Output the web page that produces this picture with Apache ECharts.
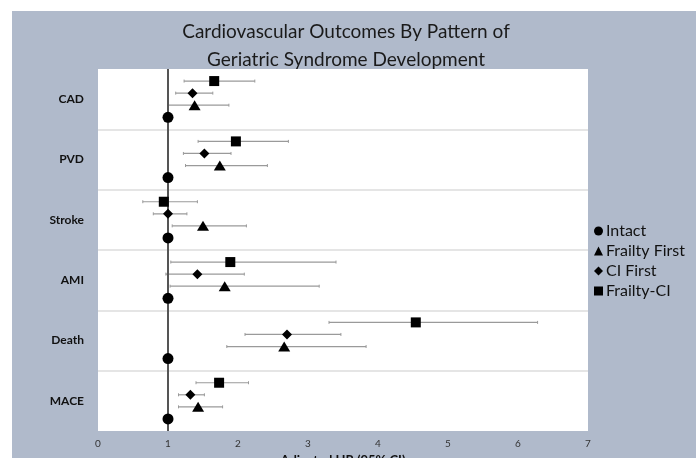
<!DOCTYPE html>
<html>
<head>
<meta charset="utf-8">
<script src="https://cdn.jsdelivr.net/npm/echarts@6/dist/echarts.min.js"></script>
<style>
  html, body { margin: 0; padding: 0; background: #ffffff; width: 696px; height: 458px; overflow: hidden; }
  #chart { position: absolute; left: 12px; top: 11px; width: 684px; height: 447px; }
</style>
</head>
<body>
<div id="chart"></div>
<script>
// ---- Data ----
const categories = ['CAD', 'PVD', 'Stroke', 'AMI', 'Death', 'MACE'];
const seriesNames = ['Intact', 'Frailty First', 'CI First', 'Frailty-CI'];

const intactHR = [1, 1, 1, 1, 1, 1];

const frailtyFirstHR = [1.38, 1.74, 1.50, 1.81, 2.66, 1.43];
const frailtyFirstLo = [1.00, 1.25, 1.06, 1.03, 1.84, 1.15];
const frailtyFirstHi = [1.87, 2.42, 2.12, 3.16, 3.83, 1.78];

const ciFirstHR = [1.35, 1.52, 1.00, 1.42, 2.70, 1.32];
const ciFirstLo = [1.11, 1.22, 0.79, 0.97, 2.10, 1.15];
const ciFirstHi = [1.64, 1.90, 1.27, 2.09, 3.47, 1.52];

const frailtyCIHR = [1.66, 1.97, 0.94, 1.89, 4.54, 1.73];
const frailtyCILo = [1.23, 1.43, 0.64, 1.04, 3.30, 1.40];
const frailtyCIHi = [2.24, 2.72, 1.42, 3.40, 6.28, 2.15];

const xTicks = [0, 1, 2, 3, 4, 5, 6, 7];

// ---- Layout of rows: each category occupies 5 row slots ----
const ROWS_PER_GROUP = 5;
const rowOffset = { 'Frailty-CI': 1, 'CI First': 2, 'Frailty First': 3, 'Intact': 4 };
function rowY(gi, name) { return gi * ROWS_PER_GROUP + rowOffset[name]; }

function points(hr, name) { return hr.map((v, i) => [v, rowY(i, name)]); }
function bars(lo, hi, name) { return lo.map((v, i) => [v, hi[i], rowY(i, name)]); }

const errData = []
  .concat(bars(frailtyFirstLo, frailtyFirstHi, 'Frailty First'))
  .concat(bars(ciFirstLo, ciFirstHi, 'CI First'))
  .concat(bars(frailtyCILo, frailtyCIHi, 'Frailty-CI'));

const separators = [];
for (let g = 1; g < categories.length; g++) separators.push({ yAxis: g * ROWS_PER_GROUP });

const FONT = 'Lato, "Open Sans", sans-serif';

const chart = echarts.init(document.getElementById('chart'), null, { renderer: 'canvas' });
chart.setOption({
  backgroundColor: '#b0bacb',
  animation: false,
  textStyle: { fontFamily: FONT },
  title: {
    text: 'Cardiovascular Outcomes By Pattern of\nGeriatric Syndrome Development',
    left: 329, top: 2, textAlign: 'center',
    textStyle: { fontFamily: FONT, fontSize: 19, fontWeight: 'normal', color: '#1a1a1a', lineHeight: 28 }
  },
  legend: {
    orient: 'vertical',
    left: 577, top: 205,
    itemWidth: 9, itemHeight: 9, itemGap: 0,
    data: seriesNames,
    textStyle: { fontFamily: FONT, fontSize: 16, lineHeight: 20, color: '#111', padding: [0, 0, 0, -2] }
  },
  grid: { left: 86, right: 108, top: 58, bottom: 27, show: true, backgroundColor: '#ffffff', borderWidth: 0, outerBoundsMode: 'none', containLabel: false },
  xAxis: {
    type: 'value', min: 0, max: 7, interval: 1,
    axisLine: { show: false }, axisTick: { show: false }, splitLine: { show: false },
    axisLabel: { fontSize: 10, color: '#333', margin: 8, formatter: v => xTicks.includes(v) ? String(v) : '' },
    name: 'Adjusted HR (95% CI)', nameLocation: 'middle', nameGap: 19,
    nameTextStyle: { fontFamily: FONT, fontSize: 13, fontWeight: 'bold', color: '#111' }
  },
  yAxis: {
    type: 'value', inverse: true, min: 0, max: categories.length * ROWS_PER_GROUP, interval: ROWS_PER_GROUP / 2,
    axisLine: { show: false }, axisTick: { show: false }, splitLine: { show: false },
    axisLabel: {
      margin: 14, fontSize: 12, fontWeight: 'bold', color: '#111',
      formatter: function (v) {
        const k = Math.round(v / (ROWS_PER_GROUP / 2));
        if (k % 2 === 1) return categories[(k - 1) / 2] || '';
        return '';
      }
    }
  },
  series: [
    {
      name: 'errorbars', type: 'custom', z: 2, silent: true,
      data: errData,
      encode: { x: [0, 1], y: 2 },
      renderItem: function (params, api) {
        const a = api.coord([api.value(0), api.value(2)]);
        const b = api.coord([api.value(1), api.value(2)]);
        return {
          type: 'group',
          children: [
            { type: 'line', shape: { x1: a[0], y1: a[1], x2: b[0], y2: b[1] }, style: { stroke: '#9a9a9a', lineWidth: 1.2 } },
            { type: 'line', shape: { x1: a[0], y1: a[1] - 1.5, x2: a[0], y2: a[1] + 1.5 }, style: { stroke: '#9a9a9a', lineWidth: 1 } },
            { type: 'line', shape: { x1: b[0], y1: b[1] - 1.5, x2: b[0], y2: b[1] + 1.5 }, style: { stroke: '#9a9a9a', lineWidth: 1 } }
          ]
        };
      },
      markLine: {
        silent: true, symbol: 'none', label: { show: false },
        lineStyle: { color: '#dcdcdc', width: 1.5, type: 'solid' },
        data: separators
      }
    },
    {
      name: 'refline', type: 'scatter', data: [], z: 3, silent: true,
      markLine: {
        silent: true, symbol: 'none', label: { show: false },
        lineStyle: { color: '#555555', width: 2, type: 'solid' },
        data: [{ xAxis: 1 }]
      }
    },
    { name: 'Intact', type: 'scatter', symbol: 'circle', symbolSize: 11, z: 5, itemStyle: { color: '#000', opacity: 1 }, data: points(intactHR, 'Intact') },
    { name: 'Frailty First', type: 'scatter', symbol: 'triangle', symbolSize: [12, 10], z: 5, itemStyle: { color: '#000', opacity: 1 }, data: points(frailtyFirstHR, 'Frailty First') },
    { name: 'CI First', type: 'scatter', symbol: 'diamond', symbolSize: [10, 10], z: 5, itemStyle: { color: '#000', opacity: 1 }, data: points(ciFirstHR, 'CI First') },
    { name: 'Frailty-CI', type: 'scatter', symbol: 'rect', symbolSize: 10, z: 5, itemStyle: { color: '#000', opacity: 1 }, data: points(frailtyCIHR, 'Frailty-CI') }
  ]
});
</script>
</body>
</html>
